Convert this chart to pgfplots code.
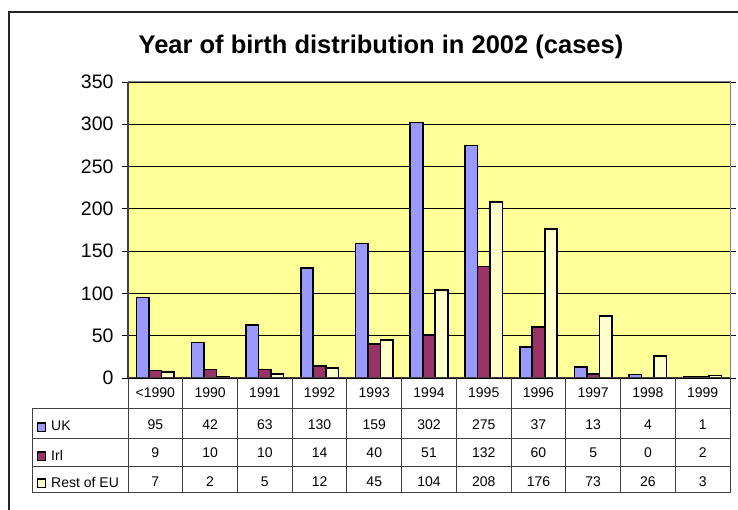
\documentclass[border=0pt]{standalone}
\usepackage{fontspec}
\setmainfont{Liberation Sans}
\usepackage{pgfplots}
\usepackage{pgfplotstable}
\pgfplotsset{compat=1.18}
\definecolor{ukc}{HTML}{9999FF}
\definecolor{irc}{HTML}{993366}
\definecolor{euc}{HTML}{FFFFCC}
\definecolor{bgc}{HTML}{FFFF99}
\pgfplotstableread{
x UK Irl EU
0 95 9 7
1 42 10 2
2 63 10 5
3 130 14 12
4 159 40 45
5 302 51 104
6 275 132 208
7 37 60 176
8 13 5 73
9 4 0 26
10 1 2 3
}\data
\newcommand{\tabfont}{\fontsize{14}{16}\selectfont}
\begin{document}
\begin{tikzpicture}[x=1pt,y=1pt]
\useasboundingbox (0,0) rectangle (738,510);
\draw[line width=1.5pt, black!85] (9,-20) rectangle (780,498);
\node[font=\bfseries\fontsize{25.5}{28}\selectfont] at (381,463) {Year of birth distribution in 2002 (cases)};
\begin{axis}[at={(128pt,132pt)}, anchor=south west, scale only axis,
  width=602pt, height=296pt,
  xmin=-0.5, xmax=10.5, ymin=0, ymax=350, ytick={0,50,...,350}, xtick=\empty,
  ybar=0pt, bar width=12.5pt,
  axis background/.style={fill=bgc},
  axis line style={draw=gray, line width=1pt},
  ymajorgrids, grid style={black, line width=0.9pt},
  tick align=outside, major tick length=6pt,
  ytick style={black, line width=0.9pt},
  yticklabel style={font=\fontsize{19.5}{22}\selectfont, xshift=-5pt},
  /pgf/number format/assume math mode=true,
]
\addplot[fill=ukc, draw=black, line width=1.6pt] table[x=x,y=UK]{\data};
\addplot[fill=irc, draw=black, line width=1.6pt] table[x=x,y=Irl]{\data};
\addplot[fill=euc, draw=black, line width=1.6pt] table[x=x,y=EU]{\data};
\end{axis}
\draw[black!75, line width=1.5pt] (128,132) -- (128,428);
% table
\begin{scope}[black!75, line width=1pt]
\draw (128,132) -- (730,132);
\foreach \y in {101.7,71.7,43.3,17.3} \draw (32,\y) -- (730,\y);
\draw (32,101.7) -- (32,17.3);
\foreach \i in {0,...,11} \draw ({128+\i*54.727},132) -- ({128+\i*54.727},17.3);
\end{scope}
\foreach \lab [count=\i from 0] in {<1990,1990,1991,1992,1993,1994,1995,1996,1997,1998,1999}
  \node[font=\tabfont, anchor=base, inner sep=0pt] at ({128+(\i+0.5)*54.727},112) {\lab};
\foreach \i in {0,...,10} {
  \pgfplotstablegetelem{\i}{UK}\of\data
  \node[font=\tabfont, anchor=base, inner sep=0pt] at ({128+(\i+0.5)*54.727},80) {\pgfplotsretval};
  \pgfplotstablegetelem{\i}{Irl}\of\data
  \node[font=\tabfont, anchor=base, inner sep=0pt] at ({128+(\i+0.5)*54.727},52) {\pgfplotsretval};
  \pgfplotstablegetelem{\i}{EU}\of\data
  \node[font=\tabfont, anchor=base, inner sep=0pt] at ({128+(\i+0.5)*54.727},23) {\pgfplotsretval};
}
% legend keys
\draw[fill=ukc, line width=1.2pt] (37.7,78.3) rectangle (45.5,87);
\draw[fill=irc, line width=1.2pt] (37.7,49.3) rectangle (45.5,58);
\draw[fill=euc, line width=1.2pt] (37.7,22.3) rectangle (45.5,31);
\node[font=\tabfont, anchor=base west, inner sep=0pt] at (51,79.3) {UK};
\node[font=\tabfont, anchor=base west, inner sep=0pt] at (51,49.8) {Irl};
\node[font=\tabfont, anchor=base west, inner sep=0pt] at (51,22.5) {Rest of EU};
\end{tikzpicture}
\end{document}
